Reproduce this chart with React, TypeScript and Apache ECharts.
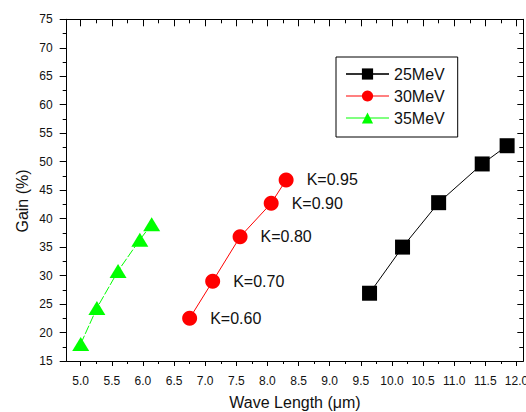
import React, { useEffect, useRef } from "react";
import * as echarts from "echarts";

const seriesNames = ["25MeV", "30MeV", "35MeV"];
const wavelength25 = [9.64, 10.17, 10.75, 11.45, 11.85];
const gain25 = [26.9, 35.0, 42.8, 49.6, 52.8];
const wavelength30 = [6.75, 7.12, 7.56, 8.06, 8.3];
const gain30 = [22.5, 29.0, 36.8, 42.7, 46.8];
const wavelength35 = [5.0, 5.26, 5.6, 5.95, 6.14];
const gain35 = [18.0, 24.3, 30.8, 36.3, 39.0];
const kLabels = ["K=0.60", "K=0.70", "K=0.80", "K=0.90", "K=0.95"];
const xMajorTicks = [5.0, 5.5, 6.0, 6.5, 7.0, 7.5, 8.0, 8.5, 9.0, 9.5, 10.0, 10.5, 11.0, 11.5, 12.0];
const xMinorTicks = [5.25, 5.75, 6.25, 6.75, 7.25, 7.75, 8.25, 8.75, 9.25, 9.75, 10.25, 10.75, 11.25, 11.75];
const X_MIN = 4.775;
const X_MAX = 12.11;
const Y_MIN = 15;
const Y_MAX = 75;
const Y_STEP = 5;

const FONT = "'Liberation Sans', Arial, sans-serif";
const TXT = "#111";

function pairs(xs: number[], ys: number[]) {
  return xs.map((x, i) => [x, ys[i]]);
}

export default function App() {
  const ref = useRef<HTMLDivElement>(null);
  useEffect(() => {
    if (!ref.current) return;
    const chart = echarts.init(ref.current, null, { renderer: "svg" });
    const axisLine = { show: true, lineStyle: { color: "#000", width: 1 } };
    const baseX = {
      type: "value",
      min: X_MIN,
      max: X_MAX,
      splitLine: { show: false },
    };
    chart.setOption({
      animation: false,
      backgroundColor: "#fff",
      grid: {
        left: 66.7,
        right: 2.7,
        top: 19.3,
        bottom: 51,
        containLabel: false,
        outerBoundsMode: "none",
      },
      legend: {
        orient: "vertical",
        left: 336,
        top: 57,
        padding: [9, 13, 11, 9],
        itemWidth: 43,
        itemHeight: 14,
        itemGap: 6,
        borderColor: "#000",
        borderWidth: 1,
        backgroundColor: "#fff",
        textStyle: { fontFamily: FONT, fontSize: 16, color: TXT },
        data: [
          { name: seriesNames[0], lineStyle: { color: "#333", type: "solid" } },
          { name: seriesNames[1], lineStyle: { color: "#ff8080", type: "solid" } },
          { name: seriesNames[2], lineStyle: { color: "#80ff80", type: "solid" } },
        ],
      },
      graphic: [
        {
          type: "text",
          x: 22,
          y: 201,
          rotation: Math.PI / 2,
          style: {
            text: "Gain (%)",
            fontFamily: FONT,
            fontSize: 16,
            fill: TXT,
            align: "center",
            verticalAlign: "middle",
          },
        },
      ],
      xAxis: [
        {
          ...baseX,
          position: "bottom",
          axisLine,
          axisTick: { show: true, inside: false, length: 5, customValues: xMajorTicks, lineStyle: { color: "#000" } },
          axisLabel: {
            show: true,
            customValues: xMajorTicks,
            formatter: (v: number) => v.toFixed(1),
            fontFamily: FONT,
            fontSize: 12,
            color: TXT,
            margin: 14,
          },
          name: "Wave Length (\u03bcm)",
          nameLocation: "middle",
          nameGap: 33,
          nameTextStyle: { fontFamily: FONT, fontSize: 16, color: TXT },
        },
        {
          ...baseX,
          position: "bottom",
          axisLine: { show: false },
          axisTick: { show: true, inside: false, length: 3, customValues: xMinorTicks, lineStyle: { color: "#000" } },
          axisLabel: { show: false },
        },
        {
          ...baseX,
          position: "top",
          axisLine,
          axisTick: { show: true, inside: true, length: 7, customValues: xMajorTicks, lineStyle: { color: "#000" } },
          axisLabel: { show: false },
        },
        {
          ...baseX,
          position: "top",
          axisLine: { show: false },
          axisTick: { show: true, inside: true, length: 4, customValues: xMinorTicks, lineStyle: { color: "#000" } },
          axisLabel: { show: false },
        },
      ],
      yAxis: [
        {
          type: "value",
          position: "left",
          min: Y_MIN,
          max: Y_MAX,
          interval: Y_STEP,
          splitLine: { show: false },
          axisLine,
          axisTick: { show: true, inside: false, length: 7, lineStyle: { color: "#000" } },
          minorTick: { show: true, splitNumber: 2, length: 4, lineStyle: { color: "#000" } },
          axisLabel: { fontFamily: FONT, fontSize: 12, color: TXT, margin: 14 },
        },
        {
          type: "value",
          position: "right",
          min: Y_MIN,
          max: Y_MAX,
          interval: Y_STEP,
          splitLine: { show: false },
          axisLine,
          axisTick: { show: true, inside: true, length: 6, lineStyle: { color: "#000" } },
          minorTick: { show: true, splitNumber: 2, length: 4, lineStyle: { color: "#000" } },
          axisLabel: { show: false },
        },
      ],
      series: [
        {
          name: seriesNames[0],
          type: "line",
          data: pairs(wavelength25, gain25),
          symbol: "rect",
          symbolSize: 15,
          itemStyle: { color: "#000" },
          lineStyle: { color: "#000", width: 1 },
        },
        {
          name: seriesNames[1],
          type: "line",
          data: pairs(wavelength30, gain30),
          symbol: "circle",
          symbolSize: 15,
          itemStyle: { color: "#ff0000" },
          lineStyle: { color: "#ff0000", width: 1 },
          label: {
            show: true,
            position: "right",
            distance: 13,
            formatter: (p: any) => kLabels[p.dataIndex],
            fontFamily: FONT,
            fontSize: 16,
            color: TXT,
          },
        },
        {
          name: seriesNames[2],
          type: "line",
          data: pairs(wavelength35, gain35),
          symbol: "triangle",
          symbolSize: [17, 14],
          itemStyle: { color: "#00ff00" },
          lineStyle: { color: "#00ff00", width: 1, type: [9, 2] },
        },
      ],
    });
    return () => chart.dispose();
  }, []);
  return (
    <div
      ref={ref}
      style={{ position: "absolute", left: 0, top: 0, width: 526, height: 412 }}
    />
  );
}
